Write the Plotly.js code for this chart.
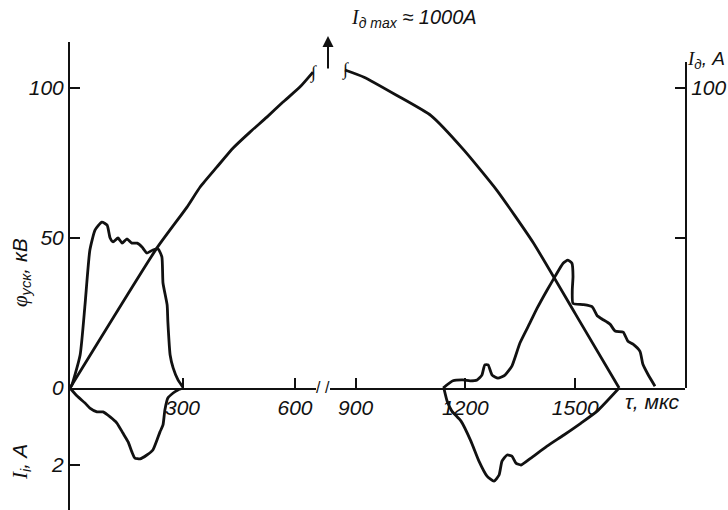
<!DOCTYPE html>
<html><head><meta charset="utf-8">
<script src="https://cdn.plot.ly/plotly-3.0.1.min.js"></script>
<style>html,body{margin:0;padding:0;background:#fff}</style>
</head><body>
<div id="chart" style="width:728px;height:510px"></div>
<script>
// ---- data (τ in µs) ----
// accelerating potential φ_уск, kV
const tauPhiL = [0,5,27,40,53,67,85,99,107,115,128,139,152,165,179,192,205,221,235,245,248,259,261,267,275,288,301];
const phiL    = [0,1,11,27.7,46,52.7,55.3,54.3,50,48.7,50,48.3,49.7,48.3,48.3,47,45,46,46.3,43.7,35,27.7,22,11,6.7,2.7,0.3];
const tauPhiR = [1139,1166,1193,1213,1232,1245,1253,1262,1273,1289,1308,1327,1349,1376,1396,1423,1445,1467,1480,1491,1494,1492,1494,1521,1546,1560,1573,1595,1609,1631,1644,1658,1677,1685,1699,1718];
const phiR    = [0,2.4,2.7,2.4,2.7,4.3,7.7,7.7,4.3,3.3,4.3,7.3,15,21.6,26.6,32.6,37.2,41.6,42.6,41.6,37.2,32.6,28.2,27.8,27.1,24.1,23,21.3,19,18.6,15.6,14.6,12.2,7.9,4.5,0.6];
// discharge current I_д, A
const tauIaL = [0,232,312,347,392,435,480,525,568,613,648];
const IaL    = [0,46.7,60.3,67,73.7,80,85.3,90.3,95.3,100.3,105.3];
const tauIaR = [871,923,1013,1106,1196,1286,1385,1500,1620];
const IaR    = [106,103.6,97.5,90.8,79.3,65.9,48.5,24.8,0];
// ion current I_i, A
const tauIiL = [0,19,40,53,72,88,107,125,141,155,165,173,187,205,221,232,240,248,253,261,275,288,301];
const IiL    = [0,0.21,0.39,0.52,0.62,0.62,0.75,0.91,1.17,1.40,1.66,1.82,1.84,1.74,1.61,1.35,1.14,0.96,0.57,0.26,0.13,0.05,0];
const tauIiR = [1141,1150,1163,1188,1215,1237,1259,1278,1292,1300,1314,1327,1338,1352,1379,1423,1469,1516,1560,1620];
const IiR    = [0,0.34,0.60,0.86,1.38,1.90,2.29,2.42,2.26,1.90,1.74,1.77,1.95,2.0,1.82,1.51,1.22,0.91,0.60,0];
// tick labels
const xTicksL = [300,600], xTicksR = [900,1200,1500];
const yTicks = [0,50,100], yTickText = ['0','50','100'];
const iTicks = [2], iTickText = ['2'];
const aTicks = [50,100], aTickText = ['','100'];

// ---- layout geometry ----
const L=70,R=685,T=42,B=510;
const fx = x => (x-L)/(R-L);
const fy = y => (B-y)/(B-T);
const base = fy(388);
const FONT = "'Liberation Sans Narrow','Liberation Sans',sans-serif";
const SERIF = "'Liberation Serif',serif";
const tf = {family:FONT,size:21,style:'italic',color:'#111'};
const ln = {color:'#111',width:2.8,shape:'spline',smoothing:0.5};

const traces = [
  {x:tauPhiL,y:phiL,xaxis:'x',yaxis:'y',mode:'lines',line:ln},
  {x:tauPhiR,y:phiR,xaxis:'x2',yaxis:'y',mode:'lines',line:ln},
  {x:tauIaL,y:IaL,xaxis:'x',yaxis:'y3',mode:'lines',line:ln},
  {x:tauIaR,y:IaR,xaxis:'x2',yaxis:'y3',mode:'lines',line:ln},
  {x:tauIiL,y:IiL,xaxis:'x',yaxis:'y2',mode:'lines',line:ln},
  {x:tauIiR,y:IiR,xaxis:'x2',yaxis:'y2',mode:'lines',line:ln}
];
const axCommon = {showgrid:false,zeroline:false,showline:true,linecolor:'#111',linewidth:2,
  ticks:'inside',ticklen:10,tickwidth:2,tickcolor:'#111',tickfont:tf,fixedrange:true};
const ann = (o) => Object.assign({showarrow:false,xanchor:'center',yanchor:'middle',xref:'paper',yref:'paper'},o);
const layout = {
  width:728,height:510,margin:{l:L,r:728-R,t:T,b:0},
  paper_bgcolor:'#fff',plot_bgcolor:'rgba(0,0,0,0)',showlegend:false,
  xaxis:Object.assign({},axCommon,{domain:[0,fx(316)],range:[0,656],anchor:'y',tickvals:xTicksL}),
  xaxis2:Object.assign({},axCommon,{domain:[fx(330),1],range:[830,1800],anchor:'y',tickvals:xTicksR}),
  yaxis:Object.assign({},axCommon,{domain:[base,1],range:[0,(388-T)/3],anchor:'x',tickvals:yTicks,ticktext:yTickText}),
  yaxis2:Object.assign({},axCommon,{domain:[0,base],range:[(B-388)/38.5,0],anchor:'x',tickvals:iTicks,ticktext:iTickText}),
  yaxis3:Object.assign({},axCommon,{domain:[base,fy(62)],range:[0,(388-62)/3],anchor:'x2',side:'right',tickvals:aTicks,ticktext:aTickText}),
  annotations:[
    ann({x:fx(414),y:fy(19),
     text:"<span style=\"font-family:'Liberation Serif'\">I</span><sub>д max</sub> ≈ 1000A",font:{family:FONT,size:20,style:'italic',color:'#111'}}),
    ann({x:fx(328),y:fy(36),ax:0,ay:34,showarrow:true,arrowhead:2,arrowsize:1.1,arrowwidth:2,arrowcolor:'#111',text:''}),
    ann({xref:'x',yref:'y3',x:648,y:105.3,text:'∫',font:{family:SERIF,size:18,color:'#111'}}),
    ann({xref:'x2',yref:'y3',x:871,y:106,text:'∫',font:{family:SERIF,size:18,color:'#111'}}),
    ann({x:fx(318),y:fy(387),text:'/',font:{family:FONT,size:16,color:'#111'}}),
    ann({x:fx(327),y:fy(387),text:'/',font:{family:FONT,size:16,color:'#111'}}),
    ann({x:fx(652),y:fy(402),text:'τ, мкс',font:{family:FONT,size:21,style:'italic',color:'#111'}}),
    ann({x:fx(706),y:fy(60),
     text:"<span style=\"font-family:'Liberation Serif'\">I</span><sub>д</sub>, A",font:{family:FONT,size:19,style:'italic',color:'#111'}}),
    ann({x:fx(21),y:fy(272),textangle:-90,
     text:"<span style=\"font-family:'Liberation Serif'\">φ</span><sub>уск</sub>, кВ",font:{family:FONT,size:21,style:'italic',color:'#111'}}),
    ann({x:fx(21),y:fy(462),textangle:-90,
     text:"<span style=\"font-family:'Liberation Serif'\">I</span><sub>i</sub>, A",font:{family:FONT,size:21,style:'italic',color:'#111'}})
  ]
};
Plotly.newPlot('chart',traces,layout,{staticPlot:true});
</script>
</body></html>
